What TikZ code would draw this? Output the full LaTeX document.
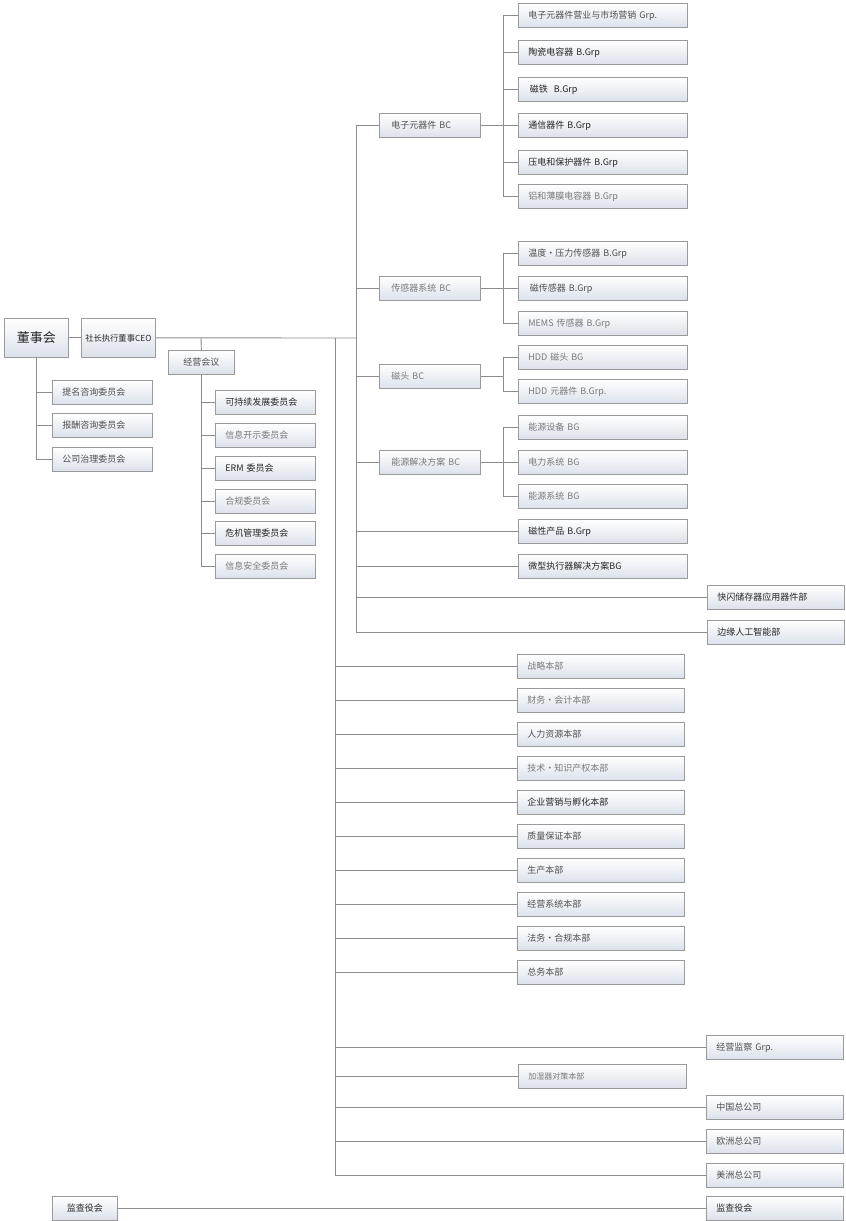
\documentclass[tikz,border=0pt]{standalone}
\usepackage{fontspec}
\newfontfamily\cjk{Noto Sans CJK SC}
\usetikzlibrary{shadows}
\definecolor{linecol}{HTML}{8C8C8C}
\definecolor{boxline}{HTML}{9A9A9A}
\definecolor{boxbot}{HTML}{DCE1EA}
\definecolor{txdk}{HTML}{262626}
\definecolor{txmd}{HTML}{505050}
\definecolor{txlt}{HTML}{7A7A7A}
\tikzset{
  conn/.style={draw=linecol, line width=0.9pt},
  orgbox/.style={draw=boxline, line width=0.7pt, top color=white, bottom color=boxbot,
    anchor=north west, inner xsep=10pt, inner ysep=0pt, minimum height=24pt,
    align=left, font=\cjk\fontsize{9}{11}\selectfont, text=txmd,
    drop shadow={shadow xshift=0.8pt, shadow yshift=-0.8pt, fill=black, opacity=0.15}},
  subbox/.style={orgbox, text width=149pt},
  bcbox/.style={orgbox, inner xsep=12pt, text width=77pt},
  rtbox/.style={orgbox, text width=117pt},
  cmtbox/.style={orgbox, text width=80pt},
  tdark/.style={text=txdk}, tlight/.style={text=txlt}
}
\begin{document}
\begin{tikzpicture}[x=1pt,y=-1pt]
\useasboundingbox (0,0) rectangle (846,1221);
% top
\node[orgbox, text width=64pt, inner xsep=0pt, align=center, minimum height=39pt, font=\cjk\fontsize{13}{15}\selectfont, text=txdk] (board) at (4,318) {董事会};
\node[orgbox, text width=74pt, inner xsep=0pt, align=center, minimum height=39pt, font=\cjk\fontsize{8.3}{10}\selectfont, text=txdk] (ceo) at (81,318) {社长执行董事CEO};
\node[orgbox, text width=66pt, inner xsep=0pt, align=center] (mtg) at (168,350) {经营会议};
% board committees
\node[cmtbox] (nom) at (52,380) {提名咨询委员会};
\node[cmtbox] (rem) at (52,413) {报酬咨询委员会};
\node[cmtbox] (gov) at (52,447) {公司治理委员会};
% management committees
\node[cmtbox, tdark] (c1) at (215,390) {可持续发展委员会};
\node[cmtbox, tlight] (c2) at (215,423) {信息开示委员会};
\node[cmtbox, tdark] (c3) at (215,456) {ERM 委员会};
\node[cmtbox, tlight] (c4) at (215,489) {合规委员会};
\node[cmtbox, tdark] (c5) at (215,521) {危机管理委员会};
\node[cmtbox, tlight] (c6) at (215,554) {信息安全委员会};
% BCs
\node[bcbox] (bc1) at (379,113) {电子元器件 BC};
\node[bcbox, tlight] (bc2) at (379,276) {传感器系统 BC};
\node[bcbox, tlight] (bc3) at (379,364) {磁头 BC};
\node[bcbox, tlight] (bc4) at (379,450) {能源解决方案 BC};
% electronic components
\node[subbox] (e1) at (518,3) {电子元器件营业与市场营销 Grp.};
\node[subbox, tdark] (e2) at (518,40) {陶瓷电容器 B.Grp};
\node[subbox, tdark] (e3) at (518,77) {\,磁铁\ \ B.Grp};
\node[subbox, tdark] (e4) at (518,113) {通信器件 B.Grp};
\node[subbox, tdark] (e5) at (518,150) {压电和保护器件 B.Grp};
\node[subbox, tlight] (e6) at (518,184) {铝和薄膜电容器 B.Grp};
% sensors
\node[subbox] (s1) at (518,241) {温度•压力传感器 B.Grp};
\node[subbox] (s2) at (518,276) {\,磁传感器 B.Grp};
\node[subbox, tlight] (s3) at (518,311) {MEMS 传感器 B.Grp};
% heads
\node[subbox, tlight] (h1) at (518,345) {HDD 磁头 BG};
\node[subbox, tlight] (h2) at (518,379) {HDD 元器件 B.Grp.};
% energy
\node[subbox, tlight] (n1) at (518,415) {能源设备 BG};
\node[subbox, tlight] (n2) at (518,450) {电力系统 BG};
\node[subbox, tlight] (n3) at (518,484) {能源系统 BG};
% others
\node[subbox, tdark] (mag) at (518,519) {磁性产品 B.Grp};
\node[subbox, tdark] (mic) at (518,554) {微型执行器解决方案BG};
\node[rtbox, tdark] (fla) at (707,585) {快闪储存器应用器件部};
\node[rtbox, tdark] (edg) at (707,620) {边缘人工智能部};
% staff
\node[subbox, tlight, text width=147pt] (f1) at (517,654) {战略本部};
\node[subbox, tlight, text width=147pt] (f2) at (517,688) {财务•会计本部};
\node[subbox, text width=147pt] (f3) at (517,722) {人力资源本部};
\node[subbox, tlight, text width=147pt] (f4) at (517,756) {技术•知识产权本部};
\node[subbox, tdark, text width=147pt] (f5) at (517,790) {企业营销与孵化本部};
\node[subbox, text width=147pt] (f6) at (517,824) {质量保证本部};
\node[subbox, text width=147pt] (f7) at (517,858) {生产本部};
\node[subbox, text width=147pt] (f8) at (517,892) {经营系统本部};
\node[subbox, text width=147pt] (f9) at (517,926) {法务•合规本部};
\node[subbox, text width=147pt] (f10) at (517,960) {总务本部};
% lower
\node[rtbox] (aud) at (706,1035) {经营监察 Grp.};
\node[subbox, tlight, text width=148pt, font=\cjk\fontsize{8}{10}\selectfont] (hum) at (518,1064) {加湿器对策本部};
\node[rtbox] (cn) at (706,1095) {中国总公司};
\node[rtbox] (eu) at (706,1129) {欧洲总公司};
\node[rtbox] (am) at (706,1163) {美洲总公司};
\node[rtbox, tdark] (kr) at (706,1196) {监查役会};
\node[orgbox, text width=65pt, inner xsep=0pt, align=center, tdark] (kl) at (52,1196) {监查役会};
% bus coordinates
\coordinate (bA) at (356,338);
\coordinate (bS) at (335,338);
\coordinate (bM) at (201,338);
\coordinate (bB) at (36,357);
\coordinate (x1) at (503,0);
% connectors
\draw[conn] (board) -- (ceo);
\draw[conn] (ceo.east) -- (bA);
\draw[conn] (bM) -- (mtg.north);
\draw[conn] (bA |- bc1) -- (bA |- edg);
\draw[conn] (bS) -- (bS |- am);
% board committees
\draw[conn] (bB) |- (gov.west);
\foreach \n in {nom,rem} \draw[conn] (bB |- \n) -- (\n.west);
% mgmt committees
\draw[conn] (mtg.south) |- (c6.west);
\foreach \n in {c1,c2,c3,c4,c5} \draw[conn] (mtg.south |- \n) -- (\n.west);
% BCs
\foreach \n in {bc1,bc2,bc3,bc4} \draw[conn] (bA |- \n) -- (\n.west);
\foreach \n in {mag,mic,fla,edg} \draw[conn] (bA |- \n) -- (\n.west);
% sub-buses
\draw[conn] (x1 |- e1) -- (x1 |- e6);
\draw[conn] (bc1.east) -- (x1 |- bc1);
\foreach \n in {e1,e2,e3,e4,e5,e6} \draw[conn] (x1 |- \n) -- (\n.west);
\draw[conn] (x1 |- s1) -- (x1 |- s3);
\draw[conn] (bc2.east) -- (x1 |- bc2);
\foreach \n in {s1,s2,s3} \draw[conn] (x1 |- \n) -- (\n.west);
\draw[conn] (x1 |- h1) -- (x1 |- h2);
\draw[conn] (bc3.east) -- (x1 |- bc3);
\foreach \n in {h1,h2} \draw[conn] (x1 |- \n) -- (\n.west);
\draw[conn] (x1 |- n1) -- (x1 |- n3);
\draw[conn] (bc4.east) -- (x1 |- bc4);
\foreach \n in {n1,n2,n3} \draw[conn] (x1 |- \n) -- (\n.west);
% staff
\foreach \n in {f1,f2,f3,f4,f5,f6,f7,f8,f9,f10,aud,hum,cn,eu,am} \draw[conn] (bS |- \n) -- (\n.west);
\draw[conn] (kl) -- (kr);
\end{tikzpicture}
\end{document}
